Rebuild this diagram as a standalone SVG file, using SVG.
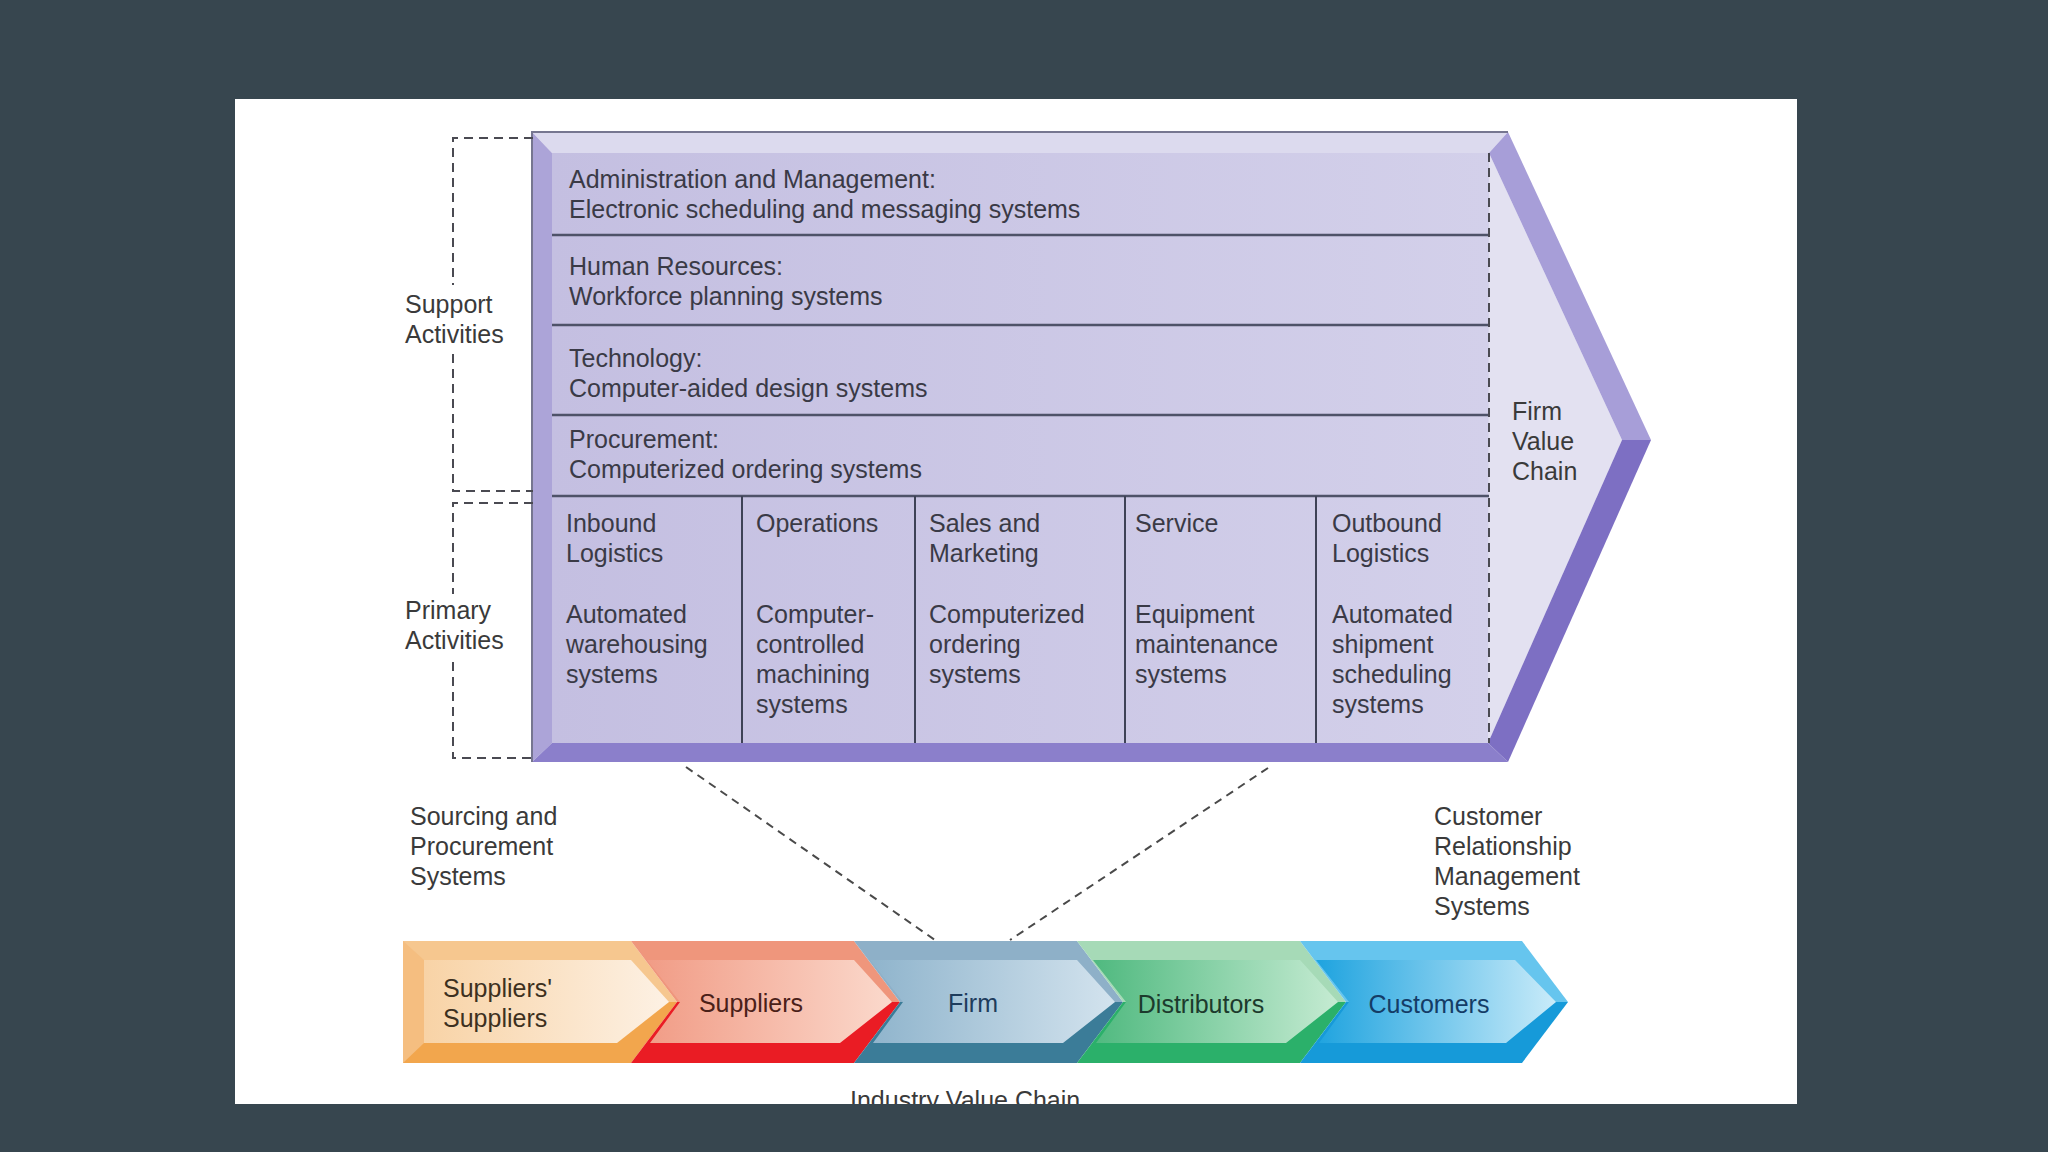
<svg xmlns="http://www.w3.org/2000/svg" width="2048" height="1152" viewBox="0 0 2048 1152">
<defs>
<style>
.t{font-family:"Liberation Sans",Arial,sans-serif;font-size:25px;fill:#3a3a46}
.o{font-family:"Liberation Sans",Arial,sans-serif;font-size:25px;fill:#3a3a3a}
.sep{stroke:#4e5268;stroke-width:2.5}
.col{stroke:#3e4256;stroke-width:2}
.dash{fill:none;stroke:#4a4a52;stroke-width:2;stroke-dasharray:9 6}
.conn{fill:none;stroke:#4a4a4a;stroke-width:2;stroke-dasharray:8 6}
</style>
<clipPath id="panel"><rect x="235" y="99" width="1562" height="1005"/></clipPath>
<linearGradient id="face" x1="0" y1="0" x2="1" y2="0">
<stop offset="0" stop-color="#c4bfe1"/><stop offset="1" stop-color="#d3d0ea"/>
</linearGradient>
<linearGradient id="gO" x1="0" y1="0" x2="1" y2="0"><stop offset="0" stop-color="#f8d3a6"/><stop offset="1" stop-color="#fdf1e4"/></linearGradient>
<linearGradient id="gR" x1="0" y1="0" x2="1" y2="0"><stop offset="0" stop-color="#f19c86"/><stop offset="1" stop-color="#fbd9cc"/></linearGradient>
<linearGradient id="gB" x1="0" y1="0" x2="1" y2="0"><stop offset="0" stop-color="#8fb4cc"/><stop offset="1" stop-color="#d3e3ee"/></linearGradient>
<linearGradient id="gG" x1="0" y1="0" x2="1" y2="0"><stop offset="0" stop-color="#4fb97f"/><stop offset="1" stop-color="#c5ebd2"/></linearGradient>
<linearGradient id="gC" x1="0" y1="0" x2="1" y2="0"><stop offset="0" stop-color="#1ea3df"/><stop offset="1" stop-color="#c9ebf9"/></linearGradient>
</defs>
<rect x="0" y="0" width="2048" height="1152" fill="#37464f"/>
<rect x="235" y="99" width="1562" height="1005" fill="#ffffff"/>

<g id="firm-value-chain">
<rect x="552" y="153" width="937" height="590" fill="url(#face)"/>
<polygon points="1489,153 1622,440 1488,743" fill="#e3e1f1"/>
<polygon points="532,132 1508,132 1489,153 552,153" fill="#dcdaee"/>
<polygon points="532,132 552,153 552,743 532,762" fill="#aca4d8"/>
<polygon points="532,762 552,743 1488,743 1508,762" fill="#8b7fcb"/>
<polygon points="1508,132 1651,440 1622,440 1489,153" fill="#a79ed8"/>
<polygon points="1651,440 1508,762 1488,743 1622,440" fill="#7d6fc3"/>
<polyline points="532,762 532,132 1508,132" fill="none" stroke="#767690" stroke-width="2"/>
<line class="sep" x1="552" y1="235" x2="1489" y2="235"/>
<line class="sep" x1="552" y1="325" x2="1489" y2="325"/>
<line class="sep" x1="552" y1="415" x2="1489" y2="415"/>
<line class="sep" x1="552" y1="496" x2="1489" y2="496"/>
<line class="col" x1="742" y1="496" x2="742" y2="743"/>
<line class="col" x1="915" y1="496" x2="915" y2="743"/>
<line class="col" x1="1125" y1="496" x2="1125" y2="743"/>
<line class="col" x1="1316" y1="496" x2="1316" y2="743"/>
<line class="dash" x1="1489" y1="153" x2="1489" y2="743" stroke="#3a3a4a"/>
<text class="o" x="1512" y="420">Firm</text>
<text class="o" x="1512" y="450">Value</text>
<text class="o" x="1512" y="480">Chain</text>
</g>

<g id="admin">
<text class="t" x="569" y="188">Administration and Management:</text>
<text class="t" x="569" y="218">Electronic scheduling and messaging systems</text>
</g>
<g id="hr">
<text class="t" x="569" y="275">Human Resources:</text>
<text class="t" x="569" y="305">Workforce planning systems</text>
</g>
<g id="technology">
<text class="t" x="569" y="367">Technology:</text>
<text class="t" x="569" y="397">Computer-aided design systems</text>
</g>
<g id="procurement">
<text class="t" x="569" y="448">Procurement:</text>
<text class="t" x="569" y="478">Computerized ordering systems</text>
</g>
<g id="inbound">
<text class="t" x="566" y="532">Inbound</text>
<text class="t" x="566" y="562">Logistics</text>
<text class="t" x="566" y="623">Automated</text>
<text class="t" x="566" y="653">warehousing</text>
<text class="t" x="566" y="683">systems</text>
</g>
<g id="operations">
<text class="t" x="756" y="532">Operations</text>
<text class="t" x="756" y="623">Computer-</text>
<text class="t" x="756" y="653">controlled</text>
<text class="t" x="756" y="683">machining</text>
<text class="t" x="756" y="713">systems</text>
</g>
<g id="sales">
<text class="t" x="929" y="532">Sales and</text>
<text class="t" x="929" y="562">Marketing</text>
<text class="t" x="929" y="623">Computerized</text>
<text class="t" x="929" y="653">ordering</text>
<text class="t" x="929" y="683">systems</text>
</g>
<g id="service">
<text class="t" x="1135" y="532">Service</text>
<text class="t" x="1135" y="623">Equipment</text>
<text class="t" x="1135" y="653">maintenance</text>
<text class="t" x="1135" y="683">systems</text>
</g>
<g id="outbound">
<text class="t" x="1332" y="532">Outbound</text>
<text class="t" x="1332" y="562">Logistics</text>
<text class="t" x="1332" y="623">Automated</text>
<text class="t" x="1332" y="653">shipment</text>
<text class="t" x="1332" y="683">scheduling</text>
<text class="t" x="1332" y="713">systems</text>
</g>

<g id="support-activities">
<polyline class="dash" points="533,138 453,138 453,285"/>
<polyline class="dash" points="453,354 453,491 533,491"/>
<text class="o" x="405" y="313">Support</text>
<text class="o" x="405" y="343">Activities</text>
</g>
<g id="primary-activities">
<polyline class="dash" points="533,503 453,503 453,594"/>
<polyline class="dash" points="453,662 453,758 533,758"/>
<text class="o" x="405" y="619">Primary</text>
<text class="o" x="405" y="649">Activities</text>
</g>

<g id="sourcing-label">
<text class="o" x="410" y="825">Sourcing and</text>
<text class="o" x="410" y="855">Procurement</text>
<text class="o" x="410" y="885">Systems</text>
</g>
<g id="crm-label">
<text class="o" x="1434" y="825">Customer</text>
<text class="o" x="1434" y="855">Relationship</text>
<text class="o" x="1434" y="885">Management</text>
<text class="o" x="1434" y="915">Systems</text>
</g>

<g id="suppliers-suppliers">
<polygon points="403,941 631,941 677,1002 403,1002" fill="#f6c78f"/>
<polygon points="403,1002 677,1002 631,1063 403,1063" fill="#f2a64d"/>
<polygon points="403,941 424,960 424,1043 403,1063" fill="#f5be80"/>
<polygon points="424,960 631,960 669,1002 617,1043 424,1043" fill="url(#gO)"/>
<text class="o" x="443" y="997" fill="#3d3020" style="fill:#3d3020">Suppliers'</text>
<text class="o" x="443" y="1027" style="fill:#3d3020">Suppliers</text>
</g>
<g id="suppliers">
<polygon points="631,941 854,941 900,1002 677,1002" fill="#ef967c"/>
<polygon points="677,1002 900,1002 854,1063 631,1063" fill="#ea1c24"/>
<polygon points="647,960 854,960 892,1002 840,1043 650,1043 680,1002" fill="url(#gR)"/>
<text class="o" x="751" y="1012" text-anchor="middle" style="fill:#4a2018">Suppliers</text>
</g>
<g id="firm">
<polygon points="854,941 1077,941 1123,1002 900,1002" fill="#8eb0c8"/>
<polygon points="900,1002 1123,1002 1077,1063 854,1063" fill="#3b7c98"/>
<polygon points="870,960 1077,960 1115,1002 1063,1043 873,1043 903,1002" fill="url(#gB)"/>
<text class="o" x="973" y="1012" text-anchor="middle" style="fill:#1e3c5c">Firm</text>
</g>
<g id="distributors">
<polygon points="1077,941 1300,941 1346,1002 1123,1002" fill="#a6dab7"/>
<polygon points="1123,1002 1346,1002 1300,1063 1077,1063" fill="#2bb06a"/>
<polygon points="1093,960 1300,960 1338,1002 1286,1043 1096,1043 1126,1002" fill="url(#gG)"/>
<text class="o" x="1201" y="1013" text-anchor="middle" style="fill:#1c3a2c">Distributors</text>
</g>
<g id="customers">
<polygon points="1300,941 1522,941 1568,1002 1346,1002" fill="#66c5ee"/>
<polygon points="1346,1002 1568,1002 1522,1063 1300,1063" fill="#169ad9"/>
<polygon points="1316,960 1515,960 1556,1002 1506,1043 1319,1043 1349,1002" fill="url(#gC)"/>
<text class="o" x="1429" y="1013" text-anchor="middle" style="fill:#143c66">Customers</text>
</g>
<g id="industry-label" clip-path="url(#panel)">
<text class="o" x="850" y="1109">Industry Value Chain</text>
</g>

<g id="connectors">
<line class="conn" x1="686" y1="767" x2="935" y2="940"/>
<line class="conn" x1="1268" y1="768" x2="1010" y2="940"/>
</g>
</svg>
